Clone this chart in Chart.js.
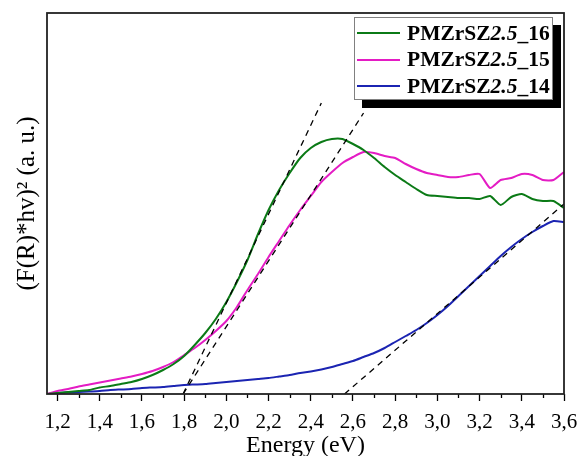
<!DOCTYPE html>
<html>
<head>
<meta charset="utf-8">
<script src="https://cdn.jsdelivr.net/npm/chart.js@4"></script>
<style>
body { margin: 0; background: #fff; }
#wrap { position: relative; width: 581px; height: 456px; }
#legend {
    position: absolute; left: 354px; top: 17px; width: 197px; height: 81px;
    border: 1px solid #808080; background: #fff; box-shadow: 8px 8px 0 #000;
    font-family: "Liberation Serif", serif; font-weight: bold; font-size: 21.5px; color: #000;
}
.row { position: absolute; left: 2px; height: 26px; display: flex; align-items: center; white-space: nowrap; }
.swatch { width: 43px; height: 2px; margin-right: 7px; }
</style>
</head>
<body>
<div id="wrap">
    <canvas id="myChart" width="581" height="456"></canvas>
    <div id="legend"></div>
</div>
<script>
// energy grid (eV)
const energy = [1.15, 1.20, 1.25, 1.30, 1.35, 1.40, 1.45, 1.50, 1.55, 1.60,
    1.65, 1.70, 1.75, 1.80, 1.85, 1.90, 1.95, 2.00, 2.05, 2.10,
    2.15, 2.20, 2.25, 2.30, 2.35, 2.40, 2.45, 2.50, 2.55, 2.60,
    2.65, 2.70, 2.75, 2.80, 2.85, 2.90, 2.95, 3.00, 3.05, 3.10,
    3.15, 3.20, 3.25, 3.30, 3.35, 3.40, 3.45, 3.50, 3.55, 3.60];

const s16 = [0, 1, 2, 3, 4, 6.5, 8, 10, 12, 15,
    19, 24, 30, 38, 49, 61, 75, 92, 112, 134,
    160, 184, 204, 221, 236, 246, 252, 255, 255, 250,
    244, 236, 227, 219, 212, 205, 199, 198, 197, 196,
    196, 195, 198, 189, 197, 200, 195, 193, 193, 186];

const s15 = [0, 3, 5, 7.5, 9.5, 11.5, 13.5, 15.5, 17.5, 20,
    23, 27, 32, 39, 46, 54, 63, 73, 87, 104,
    120, 137, 153, 169, 184, 198, 212, 222, 231, 237,
    242, 241, 238, 236, 230, 225, 221, 219, 217, 217,
    219, 220, 206, 214, 216, 220, 219, 214, 214, 222];

const s14 = [0, 1, 1.5, 2, 2.5, 3, 4, 4.5, 5, 6,
    6.5, 7, 8, 9, 9.5, 10, 11, 12, 13, 14,
    15, 16, 17.5, 19, 21, 22.5, 24.5, 27, 30, 33,
    37, 41, 46, 52, 58, 64, 71, 79, 88, 98,
    108, 118, 128, 138, 147, 155, 162, 168, 173, 172];

// tangent lines: [E start, E end], [value start, value end]
const fit16E = [1.795, 2.45], fit16V = [0, 291];
const fit15E = [1.795, 2.65], fit15V = [0, 281];
const fit14E = [2.56, 3.60], fit14V = [0, 190];

const names = ['PMZrSZ2.5_16', 'PMZrSZ2.5_15', 'PMZrSZ2.5_14'];
const colors = ['#0b7a16', '#e41cc4', '#1b24b2'];
const xTickLabels = ['1,2', '1,4', '1,6', '1,8', '2,0', '2,2', '2,4', '2,6', '2,8', '3,0', '3,2', '3,4', '3,6'];

const serif = '"Liberation Serif", serif';

const pts = (xs, ys) => xs.map((x, i) => ({ x: x, y: ys[i] }));

const series = [s16, s15, s14].map((vals, i) => ({
    label: names[i],
    data: pts(energy, vals),
    borderColor: colors[i],
    backgroundColor: colors[i],
    borderWidth: 2,
    pointRadius: 0,
    tension: 0.2,
    order: 2
}));

const fits = [[fit16E, fit16V], [fit15E, fit15V], [fit14E, fit14V]].map(([xs, ys]) => ({
    label: 'fit',
    data: pts(xs, ys),
    borderColor: '#000',
    borderWidth: 1.3,
    borderDash: [6, 5],
    pointRadius: 0,
    order: 1
}));

// legend in html so the 2.5 can be italic
const legend = document.getElementById('legend');
names.forEach((n, i) => {
    const row = document.createElement('div');
    row.className = 'row';
    row.style.top = (2 + i * 26.5) + 'px';
    const sw = document.createElement('div');
    sw.className = 'swatch';
    sw.style.background = colors[i];
    const txt = document.createElement('span');
    txt.innerHTML = n.replace('2.5', '<i>2.5</i>');
    row.appendChild(sw);
    row.appendChild(txt);
    legend.appendChild(row);
});

const framePlugin = {
    id: 'frame',
    afterDraw(chart) {
        const { ctx, chartArea: a, scales } = chart;
        ctx.save();
        ctx.strokeStyle = '#000';
        ctx.lineWidth = 1.3;
        // minor ticks
        for (let v = 1.3; v < 3.6; v += 0.2) {
            const px = Math.round(scales.x.getPixelForValue(v)) + 0.5;
            ctx.beginPath();
            ctx.moveTo(px, a.bottom);
            ctx.lineTo(px, a.bottom + 4);
            ctx.stroke();
        }
        ctx.strokeStyle = '#222';
        ctx.lineWidth = 1.8;
        ctx.strokeRect(a.left, a.top, a.right - a.left, a.bottom - a.top);
        ctx.restore();
    }
};

var ctx = document.getElementById('myChart');
var myChart = new Chart(ctx, {
    type: 'line',
    data: { datasets: [...fits, ...series] },
    options: {
        responsive: false,
        animation: false,
        layout: { padding: { top: 13, right: 17, left: 0, bottom: 0 } },
        plugins: { legend: { display: false }, tooltip: { enabled: false } },
        scales: {
            x: {
                type: 'linear',
                min: 1.15,
                max: 3.6,
                afterBuildTicks: (s) => {
                    s.ticks = xTickLabels.map(l => ({ value: parseFloat(l.replace(',', '.')) }));
                },
                ticks: {
                    callback: (v) => xTickLabels.find(l => Math.abs(parseFloat(l.replace(',', '.')) - v) < 1e-6),
                    font: { family: serif, size: 21 },
                    color: '#000',
                    maxRotation: 0,
                    autoSkip: false,
                    padding: 9
                },
                grid: { drawOnChartArea: false, tickLength: 7, tickWidth: 1.3, tickColor: '#000' },
                border: { display: false },
                title: {
                    display: true, text: 'Energy (eV)', color: '#000',
                    font: { family: serif, size: 24, lineHeight: 0.85 }, padding: { top: 0, bottom: 0 }
                },
                afterFit: (s) => {
                    s.height = 62;
                    s.paddingLeft = 0;
                    s.paddingRight = 0;
                }
            },
            y: {
                min: 0,
                max: 381,
                ticks: { display: false },
                grid: { display: false },
                border: { display: false },
                title: {
                    display: true, text: '(F(R)*hv)² (a. u.)', color: '#000',
                    font: { family: serif, size: 25 }, padding: { top: 12, bottom: 0 }
                },
                afterFit: (s) => { s.width = 47; }
            }
        }
    },
    plugins: [framePlugin]
});
</script>
</body>
</html>
